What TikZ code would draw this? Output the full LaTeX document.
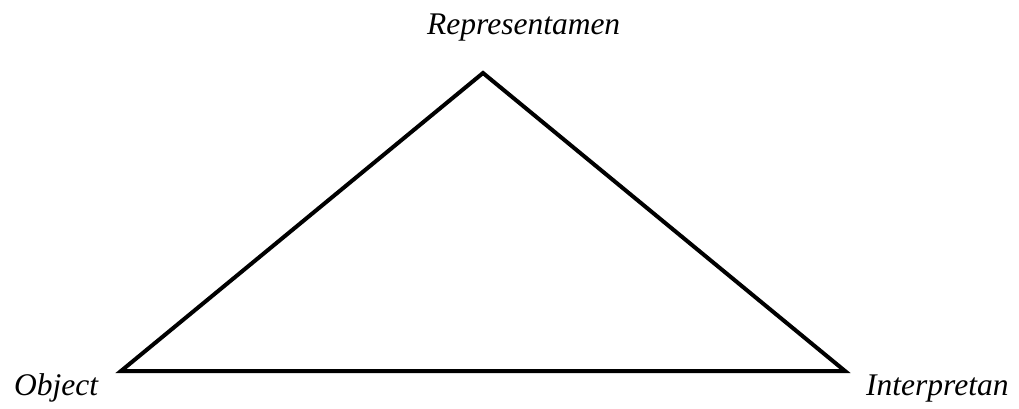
\documentclass[tikz,border=0pt]{standalone}
\usepackage{fontspec}
\setmainfont{Liberation Serif}
\begin{document}
\begin{tikzpicture}[x=1pt,y=-1pt,
  lbl/.style={anchor=base west,inner sep=0pt,font=\fontsize{31.5}{36}\selectfont\itshape},
  edge/.style={line width=4pt,line join=miter}]
\useasboundingbox (0,0) rectangle (1019,409);
\coordinate (R) at (483,73);
\coordinate (O) at (121,371);
\coordinate (I) at (845,371);
\draw[edge] (R) -- (O) -- (I) -- cycle;
\node[lbl] (tR) at (427,35) {Representamen};
\node[lbl] (tO) at (14,395) {Object};
\node[lbl] (tI) at (866,395) {Interpretan};
\end{tikzpicture}
\end{document}
